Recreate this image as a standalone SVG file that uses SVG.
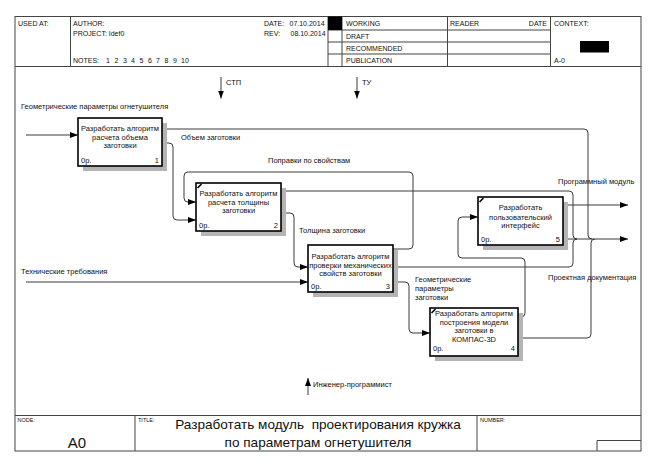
<svg xmlns="http://www.w3.org/2000/svg" width="660" height="468" viewBox="0 0 660 468">
<defs>
<marker id="ah" markerUnits="userSpaceOnUse" markerWidth="8" markerHeight="6" refX="8" refY="3" orient="auto">
<path d="M0,0 L8,3 L0,6 z" fill="#000"/>
</marker>
<style>
text{font-family:"Liberation Sans",Arial,sans-serif;fill:#111}
.hd{font-size:7px}
.sm{font-size:5.5px}
.bt{font-size:7.5px;text-anchor:middle}
.nm{font-size:7.5px}
.lb{font-size:7.5px}
.box{fill:#fff;stroke:#000;stroke-width:1.6}
.sh{fill:#b4b4b4}
.tk{stroke:#000;stroke-width:1.6}
.c{fill:none;stroke:#3a3a3a;stroke-width:1}
.a{marker-end:url(#ah)}
.fr{fill:none;stroke:#444;stroke-width:1}
</style>
</defs>
<rect width="660" height="468" fill="#fff"/>
<g id="frame">
<rect class="fr" x="15" y="16.5" width="626" height="434.5"/>
<path class="fr" d="M15,66.5 H641 M70.5,16.5 V66.5 M328,16.5 V66.5 M342,16.5 V66.5 M447.5,16.5 V66.5 M550.5,16.5 V66.5 M328,30 H550.5 M328,42 H550.5 M328,54 H550.5"/>
<rect x="328" y="16.5" width="14" height="13.5" fill="#000"/>
<rect x="580" y="41" width="29" height="11.5" fill="#000"/>
<text class="hd" x="18" y="25.5">USED AT:</text>
<text class="hd" x="73" y="25.5">AUTHOR:</text>
<text class="hd" x="73" y="36">PROJECT:  Idef0</text>
<text class="hd" x="73" y="63">NOTES: <tspan x="106">1</tspan><tspan x="114.5">2</tspan><tspan x="123">3</tspan><tspan x="131">4</tspan><tspan x="139.5">5</tspan><tspan x="148">6</tspan><tspan x="156">7</tspan><tspan x="164.5">8</tspan><tspan x="173">9</tspan><tspan x="181">10</tspan></text>
<text class="hd" x="264" y="25.5">DATE:</text>
<text class="hd" x="289.5" y="25.5">07.10.2014</text>
<text class="hd" x="264" y="36">REV:</text>
<text class="hd" x="290.5" y="36">08.10.2014</text>
<text class="hd" x="346" y="25.5">WORKING</text>
<text class="hd" x="346" y="38.5">DRAFT</text>
<text class="hd" x="346" y="50.5">RECOMMENDED</text>
<text class="hd" x="346" y="63">PUBLICATION</text>
<text class="hd" x="450" y="25.5">READER</text>
<text class="hd" x="547" y="25.5" text-anchor="end">DATE</text>
<text class="hd" x="554" y="25.5">CONTEXT:</text>
<text class="hd" x="554" y="63">A-0</text>
<path class="fr" d="M15,415.5 H641 M135,415.5 V451 M477,415.5 V451 M597,451 V440.5 H641"/>
<text class="sm" x="17.5" y="421.5">NODE:</text>
<text class="sm" x="138" y="421.5">TITLE:</text>
<text class="sm" x="480" y="421.5">NUMBER:</text>
<text x="77" y="448" font-size="15" text-anchor="middle">A0</text>
<text x="318" y="429" font-size="13.6" text-anchor="middle" xml:space="preserve">Разработать модуль  проектирования кружка</text>
<text x="318" y="447" font-size="13.6" text-anchor="middle">по параметрам огнетушителя</text>
</g>
<g id="connectors">
<path class="c a" d="M26,135 H78"/>
<path class="c a" d="M221,77 V98.5"/>
<path class="c a" d="M357,77 V98.5"/>
<path class="c" d="M162,129 H584 Q588,129 588,133 V235 Q588,239 592,239"/>
<path class="c a" d="M162,143 H169 Q173,143 173,147 V216 Q173,220 177,220 H196"/>
<path class="c" d="M281,191 H569 Q573,191 573,195 V235 Q573,239 577,239"/>
<path class="c" d="M393,267 H569 Q573,267 573,263 V243 Q573,239 577,239"/>
<path class="c a" d="M281,213 H290 Q294,213 294,217 V263 Q294,267 298,267 H308"/>
<path class="c a" d="M393,249 H409 Q413,249 413,245 V176 Q413,172 409,172 H188 Q184,172 184,176 V198 Q184,202 188,202 H196"/>
<path class="c a" d="M26,282 H308"/>
<path class="c a" d="M393,282 H405 Q409,282 409,286 V329 Q409,333 413,333 H430"/>
<path class="c a" d="M518,317 H521 Q525,317 525,313 V262 Q525,258 521,258 H462 Q458,258 458,254 V221 Q458,217 462,217 H478"/>
<path class="c" d="M518,338 H587 Q591,338 591,334 V243 Q591,239 595,239"/>
<path class="c a" d="M563,205 H628"/>
<path class="c a" d="M563,239 H628"/>
<path class="c a" d="M308,395 V378"/>
<text class="lb" x="21" y="108.5">Геометрические параметры огнетушителя</text>
<text class="lb" x="226" y="84.5">СТП</text>
<text class="lb" x="362" y="84.5">ТУ</text>
<text class="lb" x="181" y="139.5">Объем заготовки</text>
<text class="lb" x="268" y="163">Поправки по свойствам</text>
<text class="lb" x="299" y="233">Толщина заготовки</text>
<text class="lb" x="21" y="273.5">Технические требования</text>
<text class="lb" x="415" y="281.5">Геометрические</text>
<text class="lb" x="415" y="290.5">параметры</text>
<text class="lb" x="415" y="299.5">заготовки</text>
<text class="lb" x="558" y="183.5">Программный модуль</text>
<text class="lb" x="548" y="280">Проектная документация</text>
<text class="lb" x="313" y="387">Инженер-программист</text>
</g>
<g id="node1">
<rect class="sh" x="83" y="123" width="84" height="48"/>
<rect class="box" x="78" y="118" width="84" height="48"/>
<text class="bt" x="120" y="131">Разработать алгоритм</text>
<text class="bt" x="120" y="139.5">расчета объема</text>
<text class="bt" x="120" y="148">заготовки</text>
<text class="nm" x="81" y="163">0р.</text>
<text class="nm" x="159" y="163" text-anchor="end">1</text>
</g>
<g id="node2">
<rect class="sh" x="201" y="188" width="85" height="48"/>
<rect class="box" x="196" y="183" width="85" height="48"/>
<path class="tk" d="M197.5,188 L201.5,184"/>
<text class="bt" x="238.5" y="195.5">Разработать алгоритм</text>
<text class="bt" x="238.5" y="204.5">расчета толщины</text>
<text class="bt" x="238.5" y="213">заготовки</text>
<text class="nm" x="199" y="228">0р.</text>
<text class="nm" x="278" y="228" text-anchor="end">2</text>
</g>
<g id="node3">
<rect class="sh" x="313" y="250" width="85" height="47"/>
<rect class="box" x="308" y="245" width="85" height="47"/>
<text class="bt" x="350.5" y="258.5">Разработать алгоритм</text>
<text class="bt" x="350.5" y="267.5">проверки механических</text>
<text class="bt" x="350.5" y="276">свойств заготовки</text>
<text class="nm" x="311" y="289">0р.</text>
<text class="nm" x="390" y="289" text-anchor="end">3</text>
</g>
<g id="node4">
<rect class="sh" x="435" y="313" width="88" height="48"/>
<rect class="box" x="430" y="308" width="88" height="48"/>
<path class="tk" d="M431.5,313 L435.5,309"/>
<text class="bt" x="474" y="315.5">Разработать алгоритм</text>
<text class="bt" x="474" y="324.5">построения модели</text>
<text class="bt" x="474" y="333">заготовки в</text>
<text class="bt" x="474" y="342">КОМПАС-3D</text>
<text class="nm" x="433" y="351">0р.</text>
<text class="nm" x="515" y="351" text-anchor="end">4</text>
</g>
<g id="node5">
<rect class="sh" x="483" y="202" width="85" height="48"/>
<rect class="box" x="478" y="197" width="85" height="48"/>
<path class="tk" d="M479.5,202 L483.5,198"/>
<text class="bt" x="520.5" y="210">Разработать</text>
<text class="bt" x="520.5" y="219.5">пользовательский</text>
<text class="bt" x="520.5" y="228">интерфейс</text>
<text class="nm" x="481" y="242">0р.</text>
<text class="nm" x="560" y="242" text-anchor="end">5</text>
</g>
</svg>
